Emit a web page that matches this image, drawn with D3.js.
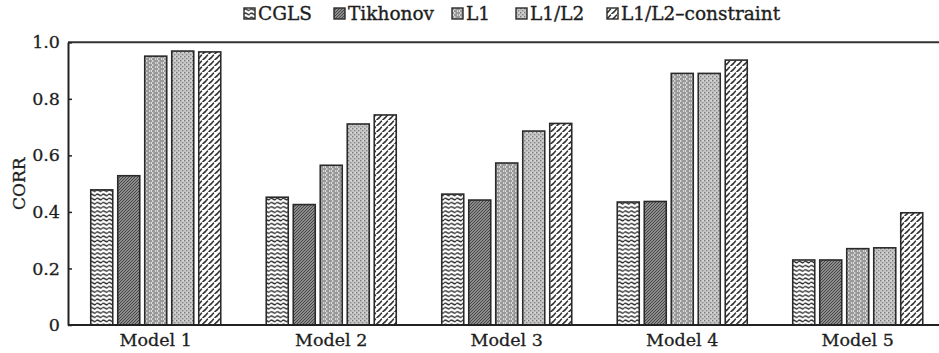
<!DOCTYPE html>
<html><head><meta charset="utf-8">
<script src="https://cdn.jsdelivr.net/npm/d3@7"></script>
<style>
body{margin:0;background:#fff;}
text{font-family:"DejaVu Serif",serif;fill:#1e1e1e;}
</style></head>
<body><svg id="c" width="939" height="353"></svg>
<script>
const models = ["Model 1","Model 2","Model 3","Model 4","Model 5"];
const seriesNames = ["CGLS","Tikhonov","L1","L1/L2","L1/L2\u2013constraint"];
const cgls       = [0.478, 0.452, 0.463, 0.435, 0.230];
const tikhonov   = [0.528, 0.426, 0.442, 0.437, 0.230];
const l1         = [0.951, 0.565, 0.573, 0.890, 0.270];
const l1l2       = [0.969, 0.711, 0.686, 0.890, 0.273];
const l1l2c      = [0.966, 0.743, 0.713, 0.937, 0.397];
const yTicks     = [0, 0.2, 0.4, 0.6, 0.8, 1.0];
const yLabel = "CORR";

const seriesValues = [cgls, tikhonov, l1, l1l2, l1l2c];
const svg = d3.select("#c");
const pLeft = 68, pRight = 945.5, pTop = 42.3, pBottom = 325;

// patterns
const defs = svg.append("defs");
function pat(id, w, h, build){
  const p = defs.append("pattern").attr("id", id).attr("patternUnits","userSpaceOnUse")
    .attr("width", w).attr("height", h);
  build(p);
}
pat("p0", 6, 4.2, p => {
  p.append("rect").attr("width",6).attr("height",4.2).attr("fill","#fff");
  p.append("path").attr("d","M0,1.6 Q1.5,0.2 3,1.6 T6,1.6").attr("fill","none").attr("stroke","#333").attr("stroke-width",1.5);
});
pat("p1", 3, 3, p => {
  p.append("rect").attr("width",3).attr("height",3).attr("fill","#8c8c8c");
  p.append("path").attr("d","M-1,1 L1,-1 M0,3 L3,0 M2,4 L4,2").attr("stroke","#3f3f3f").attr("stroke-width",0.9);
});
pat("p2", 6, 4, p => {
  p.append("rect").attr("width",6).attr("height",4).attr("fill","#f0f0f0");
  p.append("path").attr("d","M0,1 H2.3 M3.3,1 H6 M0,3 H0.8 M1.8,3 H5.3 M6.3,3 H6")
    .attr("stroke","#404040").attr("stroke-width",1.2);
});
pat("p3", 4, 4, p => {
  p.append("rect").attr("width",4).attr("height",4).attr("fill","#c4c4c4");
  p.append("rect").attr("x",0).attr("y",0).attr("width",1.3).attr("height",1.3).attr("fill","#777");
  p.append("rect").attr("x",2).attr("y",2).attr("width",1.3).attr("height",1.3).attr("fill","#888");
  p.append("rect").attr("x",2.6).attr("y",0.2).attr("width",1).attr("height",1).attr("fill","#eee");
});
pat("p4", 6, 6, p => {
  p.append("rect").attr("width",6).attr("height",6).attr("fill","#fff");
  p.append("path").attr("d","M0.8,4.2 L3.4,1.2 M3.8,7.2 L6.4,4.2 M-2.2,7.2 L0.4,4.2")
    .attr("stroke","#333").attr("stroke-width",1.6).attr("stroke-linecap","round");
});

const x0 = d3.scaleBand().domain(models).range([pLeft, pRight])
  .paddingInner(40.5/175.5).paddingOuter(20.25/175.5);
const x1 = d3.scaleBand().domain(seriesNames).range([0, x0.bandwidth()])
  .paddingInner(5/27).paddingOuter(2.5/27);
const y = d3.scaleLinear().domain([0, 1]).range([pBottom, pTop]);

// bars
const gBars = svg.append("g");
seriesNames.forEach((s, si) => {
  gBars.selectAll(null).data(models.map((m, i) => ({m, v: seriesValues[si][i]})))
    .join("rect")
    .attr("x", d => x0(d.m) + x1(s))
    .attr("y", d => y(d.v))
    .attr("width", x1.bandwidth())
    .attr("height", d => y(0) - y(d.v))
    .attr("fill", `url(#p${si})`)
    .attr("stroke", "#2a2a2a").attr("stroke-width", 1.6);
});

// frame line
svg.append("line").attr("x1", pLeft).attr("x2", 939).attr("y1", pTop).attr("y2", pTop)
  .attr("stroke", "#333").attr("stroke-width", 2);

// y axis
const yAxis = d3.axisLeft(y).tickValues(yTicks)
  .tickFormat(d => d === 0 ? "0" : d3.format(".1f")(d))
  .tickSizeInner(-4).tickSizeOuter(0).tickPadding(8);
const ga = svg.append("g").attr("transform", `translate(${pLeft},0)`).call(yAxis);
ga.select(".domain").attr("stroke", "#222").attr("stroke-width", 2);
ga.selectAll(".tick line").attr("stroke", "#222").attr("stroke-width", 1.5);
ga.selectAll(".tick text").attr("font-size", 17.5).attr("font-family", "DejaVu Serif")
  .attr("fill", "#1e1e1e").attr("stroke", "#1e1e1e").attr("stroke-width", 0.3);

// x axis
const xAxis = d3.axisBottom(x0).tickSize(0).tickPadding(9);
const gx = svg.append("g").attr("transform", `translate(0,${pBottom})`).call(xAxis);
gx.select(".domain").remove();
svg.append("line").attr("x1", pLeft).attr("x2", 939).attr("y1", pBottom).attr("y2", pBottom)
  .attr("stroke", "#222").attr("stroke-width", 2);
gx.selectAll(".tick text").attr("font-size", 17.5).attr("font-family", "DejaVu Serif")
  .attr("fill", "#1e1e1e").attr("stroke", "#1e1e1e").attr("stroke-width", 0.3);

// y label
svg.append("text").attr("transform", `translate(25,${(pTop + pBottom) / 2}) rotate(-90)`)
  .attr("text-anchor", "middle").attr("font-size", 17)
  .attr("stroke", "#1e1e1e").attr("stroke-width", 0.3).text(yLabel);

// legend
const legendX = [244, 334, 452, 516, 607];
const lg = svg.append("g");
seriesNames.forEach((s, si) => {
  const g = lg.append("g").attr("transform", `translate(${legendX[si]},8)`);
  g.append("rect").attr("width", 11).attr("height", 11).attr("fill", `url(#p${si})`)
    .attr("stroke", "#2a2a2a").attr("stroke-width", 1.4);
  g.append("text").attr("x", 14).attr("y", 11.5).attr("font-size", 18.5)
    .attr("stroke", "#1e1e1e").attr("stroke-width", 0.35).text(s);
});
</script></body></html>
